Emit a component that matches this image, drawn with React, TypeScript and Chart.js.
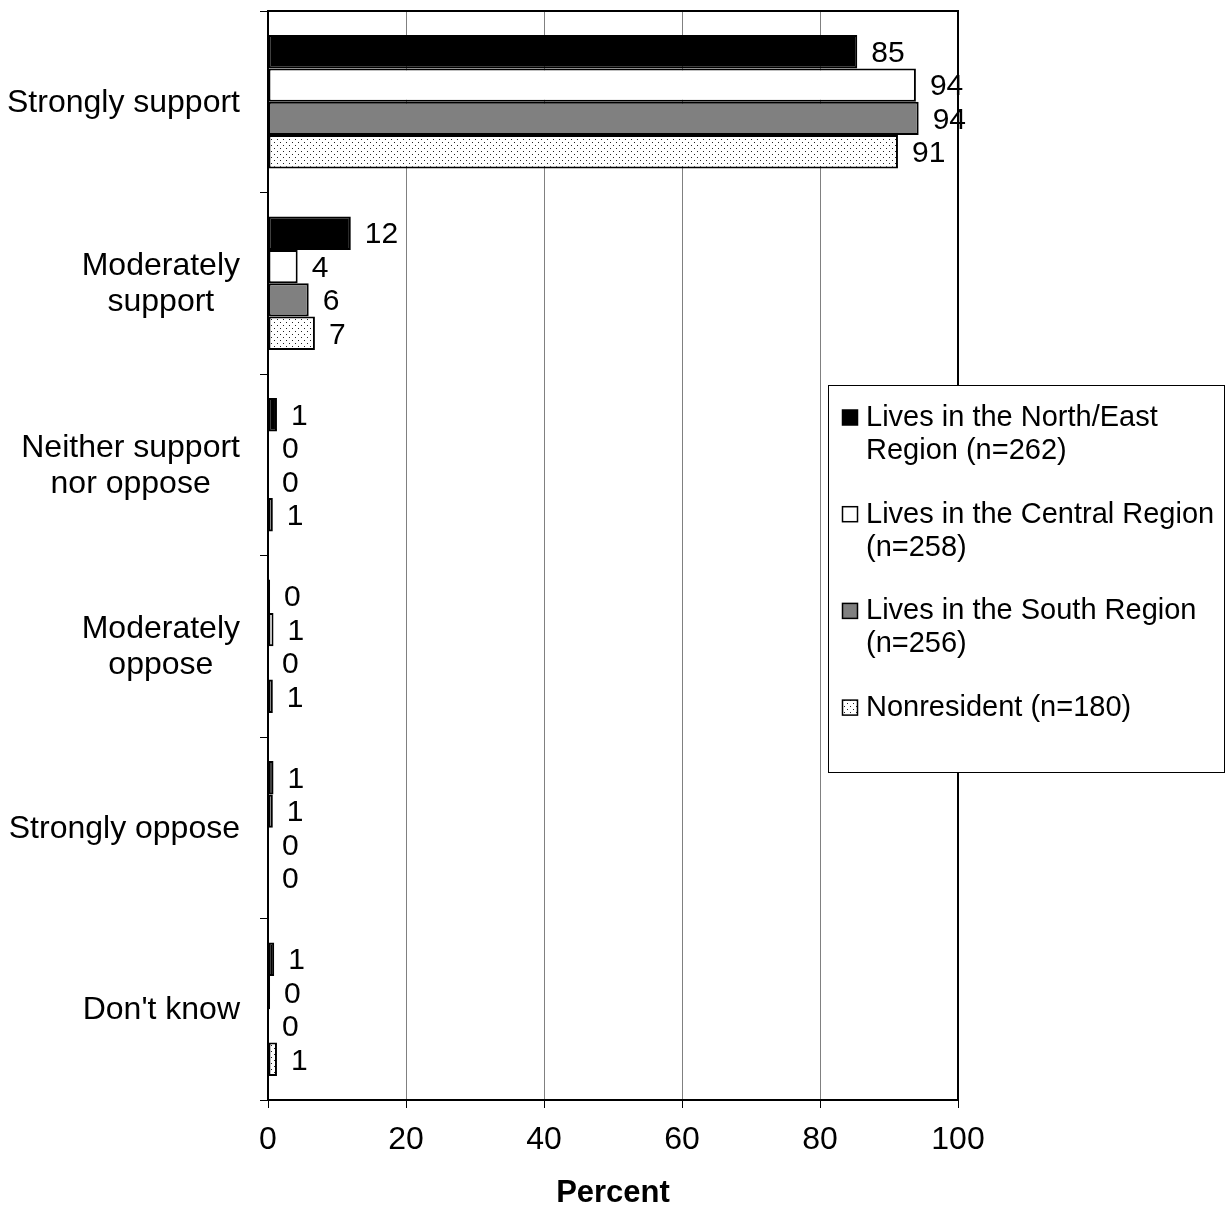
import React, { useEffect, useRef } from 'react';
import { Chart, registerables } from 'chart.js';

Chart.register(...registerables);

const categories: string[][] = [
  ['Strongly support'],
  ['Moderately', 'support'],
  ['Neither support', 'nor oppose'],
  ['Moderately', 'oppose'],
  ['Strongly oppose'],
  ["Don't know"],
];

const seriesNames: string[][] = [
  ['Lives in the North/East', 'Region (n=262)'],
  ['Lives in the Central Region', '(n=258)'],
  ['Lives in the South Region', '(n=256)'],
  ['Nonresident (n=180)'],
];

const northEast = [85.4, 12.0, 1.3, 0.3, 0.8, 0.9];
const central = [93.9, 4.3, 0, 0.8, 0.7, 0.3];
const south = [94.3, 5.9, 0, 0, 0, 0];
const nonresident = [91.3, 6.8, 0.7, 0.7, 0, 1.3];

const xTicks = [0, 20, 40, 60, 80, 100];
const xTitle = 'Percent';

const FONT = "'Liberation Sans', Arial, Helvetica, sans-serif";

function makePattern(): CanvasPattern | string {
  const c = document.createElement('canvas');
  c.width = 6;
  c.height = 6;
  const p = c.getContext('2d');
  if (!p) return '#ddd';
  p.fillStyle = '#fff';
  p.fillRect(0, 0, 6, 6);
  p.fillStyle = '#222';
  p.fillRect(1, 1, 1, 1);
  p.fillRect(4, 4, 1, 1);
  const pat = p.createPattern(c, 'repeat');
  return pat || '#ddd';
}

export default function App() {
  const ref = useRef<HTMLCanvasElement | null>(null);

  useEffect(() => {
    document.body.style.margin = '0';
    const canvas = ref.current;
    if (!canvas) return;
    const pattern = makePattern();
    const fills: (string | CanvasPattern)[] = ['#000000', '#ffffff', '#808080', pattern];
    const seriesData = [northEast, central, south, nonresident];

    const extras = {
      id: 'extras',
      afterDatasetsDraw(chart: any) {
        const ctx = chart.ctx as CanvasRenderingContext2D;
        const area = chart.chartArea;
        // frame top & right
        ctx.save();
        ctx.strokeStyle = '#000';
        ctx.lineWidth = 2;
        ctx.beginPath();
        ctx.moveTo(area.left, area.top);
        ctx.lineTo(area.right, area.top);
        ctx.lineTo(area.right, area.bottom);
        ctx.stroke();
        ctx.restore();

        // value labels
        ctx.save();
        ctx.fillStyle = '#000';
        ctx.font = `30px ${FONT}`;
        ctx.textAlign = 'left';
        ctx.textBaseline = 'middle';
        chart.data.datasets.forEach((ds: any, di: number) => {
          const meta = chart.getDatasetMeta(di);
          meta.data.forEach((bar: any, i: number) => {
            const v = Math.round(ds.data[i]);
            ctx.fillText(String(v), bar.x + 14, bar.y + 2);
          });
        });
        ctx.restore();
      },
      afterDraw(chart: any) {
        const ctx = chart.ctx as CanvasRenderingContext2D;
        const yScale = chart.scales.y;
        // category labels
        ctx.save();
        ctx.fillStyle = '#000';
        ctx.font = `32px ${FONT}`;
        ctx.textAlign = 'center';
        ctx.textBaseline = 'middle';
        const rightEdge = 240;
        const lh = 36;
        categories.forEach((lines, i) => {
          const y = yScale.getPixelForValue(i) + 1;
          const w = Math.max(...lines.map((l) => ctx.measureText(l).width));
          const cx = rightEdge - w / 2;
          const startY = y - ((lines.length - 1) * lh) / 2;
          lines.forEach((l, k) => ctx.fillText(l, cx, startY + k * lh));
        });
        ctx.restore();

        // legend
        ctx.save();
        const lx = 828.5, ly = 385.5, lw = 396, lhgt = 387;
        ctx.fillStyle = '#fff';
        ctx.fillRect(lx, ly, lw, lhgt);
        ctx.strokeStyle = '#000';
        ctx.lineWidth = 1;
        ctx.strokeRect(lx, ly, lw, lhgt);
        ctx.font = `29px ${FONT}`;
        ctx.textAlign = 'left';
        ctx.textBaseline = 'middle';
        seriesNames.forEach((lines, i) => {
          const y0 = 418 + i * 96.7;
          ctx.fillStyle = fills[i] as any;
          ctx.fillRect(842.5, y0 - 8, 15, 15);
          ctx.strokeStyle = '#000';
          ctx.lineWidth = 1.5;
          ctx.strokeRect(842.5, y0 - 8, 15, 15);
          ctx.fillStyle = '#000';
          lines.forEach((l, k) => ctx.fillText(l, 866, y0 + k * 33));
        });
        ctx.restore();
      },
    };

    const chart = new Chart(canvas, {
      type: 'bar',
      data: {
        labels: categories.map((c) => c.join(' ')),
        datasets: seriesData.map((d, i) => ({
          label: seriesNames[i].join(' '),
          data: d,
          backgroundColor: fills[i] as any,
          borderColor: '#000',
          borderWidth: 2,
          borderSkipped: false,
          barPercentage: 1,
          categoryPercentage: 0.735,
        })),
      },
      options: {
        indexAxis: 'y',
        animation: false,
        responsive: false,
        maintainAspectRatio: false,
        devicePixelRatio: 1,
        layout: { padding: { top: 11, right: 267, left: 0, bottom: 0 } },
        plugins: {
          legend: { display: false },
          tooltip: { enabled: false },
        },
        scales: {
          y: {
            type: 'category',
            ticks: { display: false },
            grid: {
              offset: true,
              drawOnChartArea: false,
              drawTicks: true,
              tickLength: 8,
              color: '#000',
              lineWidth: 1,
            },
            border: { display: true, color: '#000', width: 2 },
            afterFit: (scale: any) => {
              scale.width = 268;
            },
          },
          x: {
            type: 'linear',
            min: 0,
            max: 100,
            afterBuildTicks: (scale: any) => {
              scale.ticks = xTicks.map((v) => ({ value: v }));
            },
            ticks: {
              color: '#000',
              font: { family: FONT, size: 32 },
              padding: 13,
              maxRotation: 0,
            },
            grid: {
              color: '#808080',
              lineWidth: 1,
              drawTicks: true,
              tickLength: 8,
              tickColor: '#000',
            },
            border: { display: true, color: '#000', width: 2 },
            title: {
              display: true,
              text: xTitle,
              color: '#000',
              font: { family: FONT, size: 31, weight: 'bold', lineHeight: 1 },
              padding: { top: 0, bottom: -2 },
            },
            afterFit: (scale: any) => {
              scale.height = 107;
            },
          },
        },
      },
      plugins: [extras],
    });

    return () => chart.destroy();
  }, []);

  return (
    <div style={{ width: 1225, height: 1207 }}>
      <canvas ref={ref} width={1225} height={1207} style={{ display: 'block' }} />
    </div>
  );
}
